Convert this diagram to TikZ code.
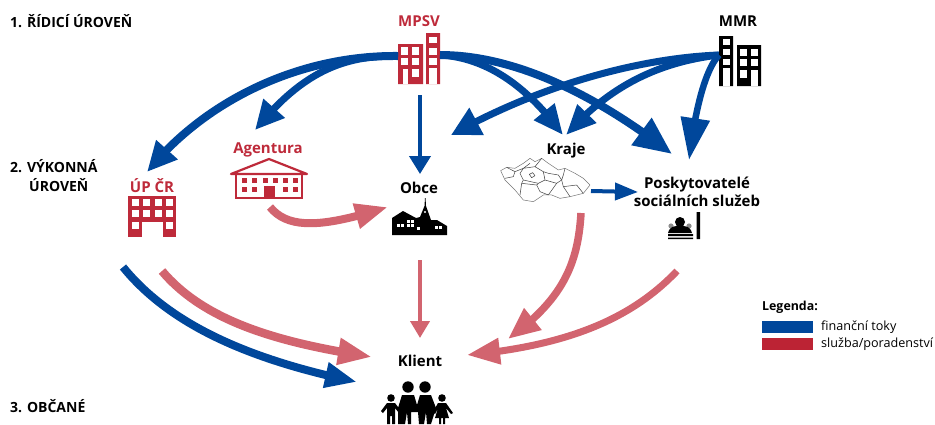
\documentclass[tikz,border=0pt]{standalone}
\usepackage{fontspec}
\setmainfont{Open Sans}
\usetikzlibrary{arrows.meta,bending}
\definecolor{flowblue}{HTML}{00479B}
\definecolor{flowred}{HTML}{D2646F}
\definecolor{darkred}{HTML}{BE2A3A}
\definecolor{legred}{HTML}{BC2334}
\newcommand{\wn}[4]{\fill[white] (#1,#2) rectangle (#3,#4);}
\tikzset{
 lab/.style={font=\bfseries\fontsize{15}{18.5}\selectfont,inner sep=0pt,align=center},
 redlab/.style={lab,text=darkred},
 lvl/.style={lab,anchor=west,font=\bfseries\fontsize{14}{16}\selectfont},
 legtext/.style={font=\fontsize{12.6}{14}\selectfont,inner sep=0pt,anchor=west},
 iconbox/.style={inner sep=0pt,minimum width=#1,minimum height=30pt},
 flow/.style n args={4}{draw=#1,line width=#2,-{Triangle[length=#3,width=#4]}},
}
\begin{document}
\begin{tikzpicture}[x=1pt,y=-1pt]
\useasboundingbox (0,0) rectangle (935,424);
% level labels
\node[lvl] (l1) at (10,21) {1. ŘÍDICÍ ÚROVEŇ};
\node[lvl] (l2) at (10,166) {2. VÝKONNÁ};
\node[lvl] (l2b) at (29,185) {ÚROVEŇ};
\node[lvl] (l3) at (10,406) {3. OBČANÉ};
% labels
\node[redlab] (mpsv) at (419,21) {MPSV};
\node[lab] (mmr) at (738,21) {MMR};
\node[redlab] (agentura) at (268,150) {Agentura};
\node[redlab] (upcr) at (152,186) {ÚP ČR};
\node[lab] (obce) at (419,188) {Obce};
\node[lab] (kraje) at (566,151) {Kraje};
\node[lab] (posk) at (697,192) {Poskytovatelé\\sociálních služeb};
\node[lab] (klient) at (420,361) {Klient};
% anchor boxes of the icons
\node[iconbox=42pt] (mpsvicon) at (419,58) {};
\node[iconbox=42pt] (mmricon) at (740,61) {};
\node[iconbox=48pt] (upicon) at (152,216) {};
\node[iconbox=78pt] (agicon) at (269,178) {};
\node[iconbox=55pt] (obceicon) at (419,216) {};
\node[iconbox=90pt] (krajeicon) at (546,181) {};
\node[iconbox=32pt] (poskicon) at (683,226) {};
% MPSV building
\fill[darkred] (398,44) rectangle (423,84) (426,33) rectangle (440,84);
\wn{401}{47}{408}{55}\wn{412}{47}{419}{55}
\wn{401}{58}{408}{65}\wn{412}{58}{419}{65}
\wn{412}{69}{419}{77}\wn{403}{69}{408}{84}
\wn{429}{37}{437}{43}\wn{429}{48}{437}{55}\wn{429}{58}{437}{65}\wn{429}{68}{437}{84}
% MMR building
\fill[black] (719,36) rectangle (733,86) (737,45) rectangle (761,86);
\wn{723}{39}{730}{45}\wn{723}{49}{730}{55}\wn{723}{59}{730}{65}\wn{723}{68}{730}{86}
\wn{740}{49}{747}{56}\wn{751}{49}{758}{56}
\wn{740}{59}{747}{66}\wn{751}{59}{758}{66}
\wn{740}{70}{747}{78}\wn{751}{70}{758}{86}
% UP CR building
\fill[darkred] (128,196) rectangle (176,237);
\foreach \x in {132,143,155,166}{\foreach \y in {199,210}{\wn{\x}{\y}{\x+7}{\y+7}}}
\wn{132}{222}{139}{229}\wn{166}{222}{173}{229}\wn{142}{222}{163}{237}
% Agentura building
\draw[darkred,line width=2.2pt,line join=round] (231,174) -- (269,159) -- (307,174) -- cycle;
\draw[darkred,line width=2pt] (236,174) -- (236,197.5) -- (302,197.5) -- (302,174);
\foreach \x in {242,252,263,273,283,293}{\fill[darkred] (\x,178) rectangle (\x+5,183);}
\foreach \x in {242,252,283,293}{\fill[darkred] (\x,187) rectangle (\x+5,192);}
\fill[darkred] (264,186) rectangle (275,198);
% Obce village
\fill[black] (392,235) -- (392,218) -- (403,211) -- (416,218) -- (420,217) -- (424.5,206) -- (425,198) -- (425.5,198) -- (426,206) -- (431,220) -- (437,220) -- (447,226) -- (447,235) -- cycle;
\foreach \x/\y in {397/224,401/224,407/220,411/220,407/224,411/224,435/226,439/226,417/227}{\fill[white] (\x,\y) rectangle +(2.6,2.6);}
\fill[white] (425,212) circle (1.2);
% Poskytovatele icon
\fill[black!45] (671,226) circle (2.6) (689,226) circle (2.6);
\fill[black] (680,222) circle (5);
\fill[black] (668,233) .. controls (670,226) and (674,226) .. (680,226) .. controls (686,226) and (690,226) .. (692,233) -- cycle;
\fill[black] (668,234) rectangle (693,236) (668,237.5) rectangle (693,239) (696.5,212) rectangle (700,239);
% Klient family
\fill[black] (408,387) circle (5.7) (425,387) circle (5.7) (391,398) circle (3.8) (442,398) circle (3.8);
\fill[black] (398,424) -- (398,408) -- (402,395) -- (414,395) -- (417,405) -- (420,395) -- (431,395) -- (436,408) -- (431,424) -- (427,424) -- (426,412) -- (424,424) -- (419,424) -- (418,412) -- (411,412) -- (411,424) -- (408,424) -- (407,412) -- (405,424) -- cycle;
\fill[black] (381,411) -- (387,403) -- (395,403) -- (401,411) -- (399,413) -- (395,408) -- (395,424) -- (392,424) -- (392,416) -- (390,416) -- (390,424) -- (387,424) -- (387,408) -- (383,413) -- cycle;
\fill[black] (433,412) -- (438,403) -- (446,403) -- (453,413) -- (451,414) -- (446,408) -- (449,418) -- (445,418) -- (445,424) -- (443,424) -- (443,418) -- (441,418) -- (441,424) -- (439,424) -- (439,418) -- (435,418) -- (438,408) -- (435,414) -- cycle;
% Czech map
\begin{scope}[shift={(480,130)},x=0.3333pt,y=-0.3333pt,draw=black!55,line width=0.5pt,line join=round]
\draw (62,122) -- (80,112) -- (105,115) -- (130,100) -- (150,85) -- (165,95) -- (185,85) -- (205,100) -- (235,120) -- (255,115) -- (285,130) -- (310,145) -- (330,165) -- (310,190) -- (270,200) -- (240,205) -- (215,195) -- (190,195) -- (160,215) -- (130,210) -- (105,180) -- (75,150) -- cycle;
\draw[black!75] (80,112) -- (105,125) -- (100,140) -- (75,145);
\draw[black!75] (105,125) -- (130,115) -- (150,100) (130,115) -- (165,110) -- (185,85) (165,110) -- (190,125) -- (195,150) -- (175,160) -- (130,150) -- (120,130) -- (130,115);
\draw[black!75] (190,125) -- (205,130) -- (235,135) -- (245,150) -- (230,160) -- (195,150);
\draw[black!75] (125,160) -- (130,150) (125,160) -- (120,195) (125,160) -- (170,165) -- (175,160) (170,165) -- (180,185) -- (205,195) -- (230,160);
\draw[black!75] (245,150) -- (250,170) -- (270,200) (255,115) -- (250,135) -- (245,150) (250,170) -- (290,165) -- (310,190);
\draw[black!75] (148,133) -- (158,128) -- (165,137) -- (155,143) -- cycle;
\end{scope}
% connectors, blue
\draw[flow={flowblue}{8pt}{30pt}{27pt}] ([shift={(-21,-2)}]mpsvicon.center) .. controls (300,55) and (205,100) .. ([shift={(-5,-14)}]upcr.center);
\draw[flow={flowblue}{7pt}{29pt}{27pt}] ([shift={(-21,-2)}]mpsvicon.center) .. controls (340,55) and (300,75) .. ([shift={(-13,-20)}]agentura.center);
\draw[flow={flowblue}{4pt}{18pt}{21pt}] ([shift={(1,37)}]mpsvicon.center) -- ([shift={(1,-14)}]obce.center);
\draw[flow={flowblue}{7pt}{30pt}{25pt}] ([shift={(21,-3)}]mpsvicon.center) .. controls (490,58) and (530,90) .. ([shift={(-3,-16)}]kraje.center);
\draw[flow={flowblue}{8pt}{38pt}{32pt}] ([shift={(21,-3)}]mpsvicon.center) .. controls (510,55) and (590,90) .. ([shift={(-25,-38)}]posk.center);
\draw[flow={flowblue}{7pt}{29pt}{29pt}] ([shift={(-21,-6)}]mmricon.center) .. controls (640,58) and (540,85) .. ([shift={(-115,-16)}]kraje.center);
\draw[flow={flowblue}{7pt}{30pt}{25pt}] ([shift={(-21,-6)}]mmricon.center) .. controls (660,62) and (610,85) .. ([shift={(0,-16)}]kraje.center);
\draw[flow={flowblue}{6.5pt}{42pt}{28pt}] ([shift={(-21,-6)}]mmricon.center) .. controls (705,70) and (695,110) .. ([shift={(-8,-32)}]posk.center);
\draw[flow={flowblue}{4pt}{23pt}{17pt}] ([shift={(45,10)}]krajeicon.center) -- ([shift={(-59,0)}]posk.center);
% connectors, red
\draw[flow={flowred}{8pt}{33pt}{24pt}] ([shift={(1,29)}]agicon.center) .. controls (290,232) and (330,225) .. ([shift={(-31,19)}]obce.center);
\draw[flow={flowred}{4pt}{17pt}{19pt}] ([shift={(1,44)}]obceicon.center) -- ([shift={(0,-23)}]klient.center);
\draw[flow={flowblue}{8pt}{32pt}{24pt}] ([shift={(-29,51)}]upicon.center) .. controls (170,325) and (250,360) .. ([shift={(-63,21)}]klient.center);
\draw[flow={flowred}{8.5pt}{34pt}{25pt}] ([shift={(10,55)}]upicon.center) .. controls (205,322) and (280,343) .. ([shift={(-48,-4)}]klient.center);
\draw[flow={flowred}{7.5pt}{32pt}{26pt}] ([shift={(35,32)}]krajeicon.center) .. controls (578,265) and (562,300) .. ([shift={(88,-22)}]klient.center);
\draw[flow={flowred}{7pt}{33pt}{25pt}] ([shift={(-6,45)}]poskicon.center) .. controls (635,315) and (575,345) .. ([shift={(47,-6)}]klient.center);
% legend
\node[lab,font=\bfseries\fontsize{12.4}{14}\selectfont] (legend) at (790,307) {Legenda:};
\node[fill=flowblue,inner sep=0pt,minimum width=51pt,minimum height=12pt] (legb) at (787.5,327) {};
\node[fill=legred,inner sep=0pt,minimum width=51pt,minimum height=12pt] (legr) at (787.5,344) {};
\node[legtext] (legbt) at (821,327) {finanční toky};
\node[legtext] (legrt) at (821,344) {služba/poradenství};
\end{tikzpicture}
\end{document}
